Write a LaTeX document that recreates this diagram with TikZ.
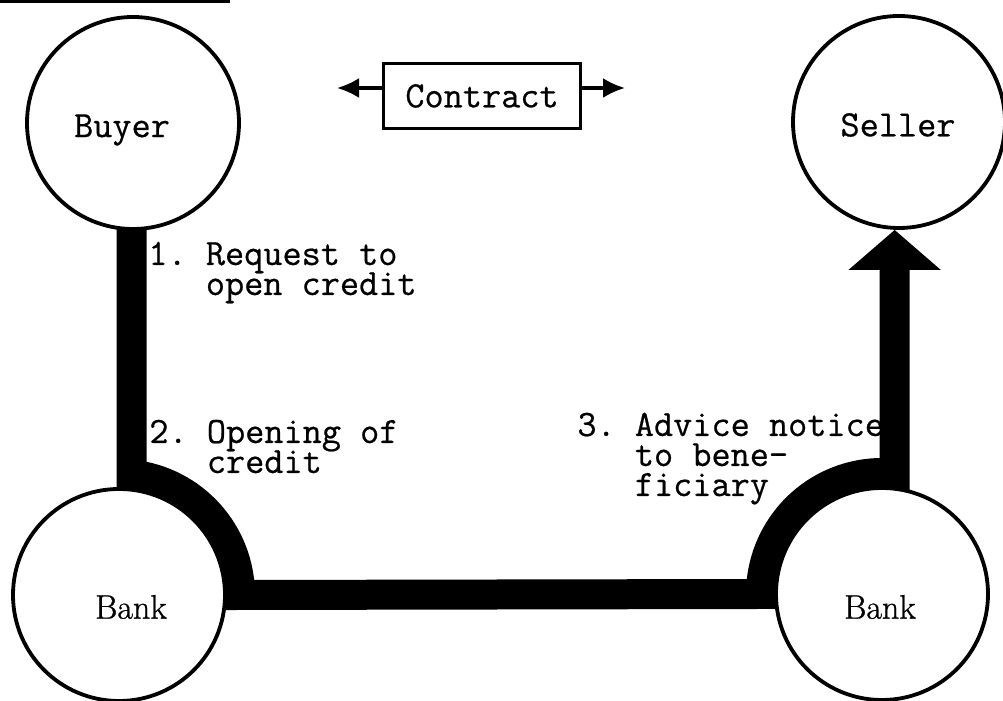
\documentclass[tikz,border=0pt]{standalone}
\usepackage{fontspec}
\setmonofont{Latin Modern Mono}[FakeBold=0.6]
\newfontfamily\bankfont{Latin Modern Roman}[FakeBold=0.8]
\usepackage{tikz}
\usetikzlibrary{arrows.meta,calc,positioning,backgrounds}
\tikzset{>=stealth}

\begin{document}
\frenchspacing
\lineskiplimit=-16000pt
\begin{tikzpicture}[x=0.5pt,y=0.5pt,
    party/.style={circle, draw, fill=white, line width=1.9pt, minimum size=106pt, inner sep=0pt},
    typed/.style={font=\ttfamily\fontsize{18.6pt}{15pt}\selectfont, inner sep=0pt},
    banktext/.style={font=\bankfont\fontsize{17pt}{18pt}\selectfont, inner sep=0pt},
    band/.style={line width=15pt},
    flow/.style={-{Triangle[width=45pt,length=20pt]}},
    deal/.style={line width=1.6pt, -{Latex[length=11pt,width=10pt]}}]
\useasboundingbox (0,0) rectangle (1003,701);
% heading rule
\draw[line width=1.5pt] (0,699) -- (230,699);
% parties
\node[party] (buyer) at (133,578) {};
\node[party] (seller) at (899,579) {};
\node[party] (bankL) at (119,106) {};
\node[party] (bankR) at (882,107) {};
\node[typed] (buyername) at (122,571) {Buyer};
\node[typed] (sellername) at (898,576) {Seller};
\node[banktext] (bankLname) at (131,94) {Bank};
\node[banktext] (bankRname) at (880,94) {Bank};
% contract
\node[typed, draw, line width=1.5pt, minimum width=98.5pt, minimum height=32.5pt] (contract) at (482,605) {Contract};
\coordinate (dealL) at (337,613);
\coordinate (dealR) at (625,613);
\draw[deal] ([yshift=4pt]contract.west) -- (dealL);
\draw[deal] ([yshift=4pt]contract.east) -- (dealR);
% credit path
\coordinate (a1) at ($(bankL)+(84:121)$);
\coordinate (a2) at ($(bankR)+(180:121)$);
\coordinate (a3) at ($(bankR)+(84:121)$);
\begin{scope}[on background layer]
\draw[band, flow] (a1 |- buyer.center) -- (a1) arc[start angle=84, end angle=0, radius=121]
    -- (a2) arc[start angle=180, end angle=84, radius=121] -- (a3 |- seller.south);
\end{scope}
% steps (base = last line)
\node[typed, align=left, anchor=base west] (step1) at (148,406) {1. Request to\\\hphantom{1. }open credit};
\node[typed, align=left, anchor=base west] (step2) at (149,228) {2. Opening of\\\hphantom{2. }credit};
\node[typed, align=left, anchor=base west] (step3) at (577,205) {3. Advice notice\\\hphantom{3. }to bene-\\\hphantom{3. }ficiary};
\end{tikzpicture}
\end{document}
